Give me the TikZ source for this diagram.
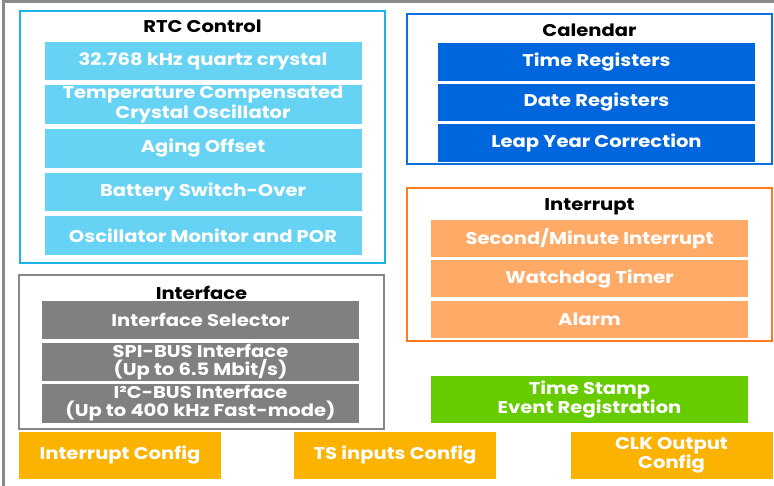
\documentclass[tikz,border=0pt]{standalone}
\usepackage{fontspec}
\setmainfont{Poppins}[FakeStretch=1.15]
\definecolor{rtcline}{HTML}{1CB4E4}
\definecolor{rtcfill}{HTML}{66D3F4}
\definecolor{calline}{HTML}{0B6FE0}
\definecolor{calfill}{HTML}{0066DD}
\definecolor{intline}{HTML}{FF7A1A}
\definecolor{intfill}{HTML}{FFAA66}
\definecolor{ifline}{HTML}{888888}
\definecolor{iffill}{HTML}{808080}
\definecolor{tsfill}{HTML}{66CC00}
\definecolor{cfgfill}{HTML}{FBB300}
\definecolor{frame}{HTML}{8A8A8A}
\tikzset{
  group/.style={draw=#1, line width=2.4pt, fill=white, minimum width=365pt, inner sep=0pt},
  gtitle/.style={font=\bfseries\fontsize{17}{18}\selectfont, text=black, inner sep=0pt},
  cell/.style={fill=#1, text=white, font=\bfseries\fontsize{17}{18}\selectfont, align=center,
    minimum width=317pt, inner sep=0pt},
}
\begin{document}
\begin{tikzpicture}[x=1pt,y=-1pt]
\useasboundingbox (0,0) rectangle (774,486);
\fill[white] (0,0) rectangle (774,486);
\draw[frame, line width=3pt] (3,490) -- (3,1.5) -- (778,1.5);

% RTC Control
\node[group=rtcline, minimum height=252pt] (rtc) at (202.5,137) {};
\node[gtitle] (rtct) at (202.5,26) {RTC Control};
\node[cell=rtcfill, minimum height=38pt] (r1) at (203,61) {32.768 kHz quartz crystal};
\node[cell=rtcfill, minimum height=39pt] (r2) at (203,104.5) {Temperature Compensated\\Crystal Oscillator};
\node[cell=rtcfill, minimum height=39pt] (r3) at (203,148.5) {Aging Offset};
\node[cell=rtcfill, minimum height=38pt] (r4) at (203,192) {Battery Switch-Over};
\node[cell=rtcfill, minimum height=39pt] (r5) at (203,235.5) {Oscillator Monitor and POR};

% Calendar
\node[group=calline, minimum height=150pt] (cal) at (589.5,89) {};
\node[gtitle] (calt) at (589.5,30) {Calendar};
\node[cell=calfill, minimum height=38pt] (c1) at (596.5,62) {Time Registers};
\node[cell=calfill, minimum height=37pt] (c2) at (596.5,102.5) {Date Registers};
\node[cell=calfill, minimum height=38pt] (c3) at (596.5,143) {Leap Year Correction};

% Interrupt
\node[group=intline, minimum height=153pt] (int) at (589.5,264.5) {};
\node[gtitle] (intt) at (589.5,207) {Interrupt};
\node[cell=intfill, minimum height=37pt] (i1) at (589.5,238.5) {Second/Minute Interrupt};
\node[cell=intfill, minimum height=37pt] (i2) at (589.5,279) {Watchdog Timer};
\node[cell=intfill, minimum height=37pt] (i3) at (589.5,319.5) {Alarm};

% Interface
\node[group=ifline, line width=2pt, minimum height=154pt] (ifc) at (201.5,352) {};
\node[gtitle] (ifct) at (201.5,293) {Interface};
\node[cell=iffill, minimum height=38pt] (f1) at (200.5,320) {Interface Selector};
\node[cell=iffill, minimum height=38pt] (f2) at (200.5,362) {SPI-BUS Interface\\(Up to 6.5 Mbit/s)};
\node[cell=iffill, minimum height=39pt] (f3) at (200.5,403.5) {I²C-BUS Interface\\(Up to 400 kHz Fast-mode)};

% Time stamp
\node[cell=tsfill, minimum height=47pt] (ts) at (589.5,399.5) {Time Stamp\\Event Registration};

% Config boxes
\node[cell=cfgfill, minimum width=202pt, minimum height=47pt] (b1) at (120,455.5) {Interrupt Config};
\node[cell=cfgfill, minimum width=202pt, minimum height=47pt] (b2) at (395,455.5) {TS inputs Config};
\node[cell=cfgfill, minimum width=202pt, minimum height=47pt] (b3) at (671.5,455.5) {CLK Output\\Config};
\end{tikzpicture}
\end{document}
